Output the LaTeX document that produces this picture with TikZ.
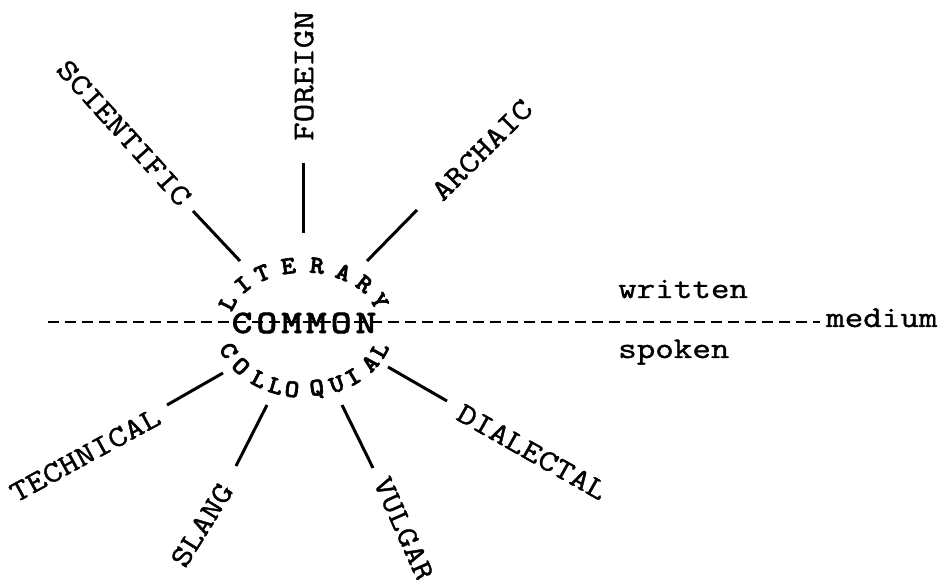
\documentclass[tikz,border=0pt]{standalone}
\usepackage{fontspec}
\newfontfamily\cour{Latin Modern Mono}[FakeStretch=1.2, FakeBold=1.2]
\newfontfamily\courbold{lmmonolt10-bold.otf}[FakeStretch=1.2, FakeBold=1.5]
\newfontfamily\courarc{lmmonolt10-bold.otf}[FakeStretch=1.1, FakeBold=2.5]
\begin{document}
\begin{tikzpicture}[x=1pt,y=1pt,
  lab/.style={font=\cour\fontsize{30}{30}\selectfont, inner sep=0pt},
  med/.style={font=\cour\fontsize{30}{30}\selectfont, inner sep=0pt, anchor=base west},
  arcl/.style={font=\courarc\fontsize{25}{25}\selectfont, inner sep=0pt},
  centre/.style={font=\courbold\fontsize{33}{33}\selectfont, inner sep=0pt},
  spoke/.style={line width=3pt},
  medline/.style={line width=2.2pt, dash pattern=on 11pt off 6pt}]
\useasboundingbox (0,0) rectangle (946,579);
% medium line
\coordinate (dl) at (48,257);
\coordinate (dr) at (820,257);
\draw[medline] (dl) -- (dr);
\node[med] (medium) at (826,252) {medium};
\node[med] (written) at (618,281) {written};
\node[med] (spoken) at (618,221) {spoken};
% centre
\node[centre] (common) at (304,256) {C\kern4pt O\kern4pt M\kern4pt M\kern4pt O\kern4pt N};
\foreach \ch/\t [count=\i] in {L/160.2, I/139.2, T/121.1, E/101.2, R/80.6, A/60.8, R/41.7, Y/21.6}
  \node[arcl, rotate={atan2(-57*cos(\t),81*sin(\t))}] (lit\i) at ({304+81*cos(\t)},{257+57*sin(\t)}) {\ch};
\foreach \ch/\t [count=\i] in {C/204.9, O/220.6, L/237.3, L/250.2, O/261.7, Q/279, U/293.3, I/306, A/322.7, L/335.7}
  \node[arcl, rotate={atan2(68*cos(\t),-83*sin(\t))}] (col\i) at ({304+83*cos(\t)},{257+68*sin(\t)}) {\ch};
% labels
\node[lab, rotate=90] (foreign) at (304,503) {FOREIGN};
\node[lab, rotate=-48] (scientific) at (124,446) {SCIENTIFIC};
\node[lab, rotate=45] (archaic) at (482,429) {ARCHAIC};
\node[lab, rotate=28.6] (technical) at (85,124) {TECHNICAL};
\node[lab, rotate=58] (slang) at (202,54) {SLANG};
\node[lab, rotate=-66] (vulgar) at (404,50) {VULGAR};
\node[lab, rotate=-29.5] (dialectal) at (532,127) {DIALECTAL};
% spokes
\coordinate (fo1) at (303,416); \coordinate (fo2) at (303,346);
\coordinate (sc1) at (193,368); \coordinate (sc2) at (240,318);
\coordinate (ar1) at (417,369); \coordinate (ar2) at (367,318);
\coordinate (te1) at (167,174); \coordinate (te2) at (223,206);
\coordinate (sl1) at (236,113); \coordinate (sl2) at (267,174);
\coordinate (vu1) at (373,111); \coordinate (vu2) at (342,174);
\coordinate (di1) at (447,178); \coordinate (di2) at (388,212);
\draw[spoke] (fo1) -- (fo2);
\draw[spoke] (sc1) -- (sc2);
\draw[spoke] (ar1) -- (ar2);
\draw[spoke] (te1) -- (te2);
\draw[spoke] (sl1) -- (sl2);
\draw[spoke] (vu1) -- (vu2);
\draw[spoke] (di1) -- (di2);
\end{tikzpicture}
\end{document}
